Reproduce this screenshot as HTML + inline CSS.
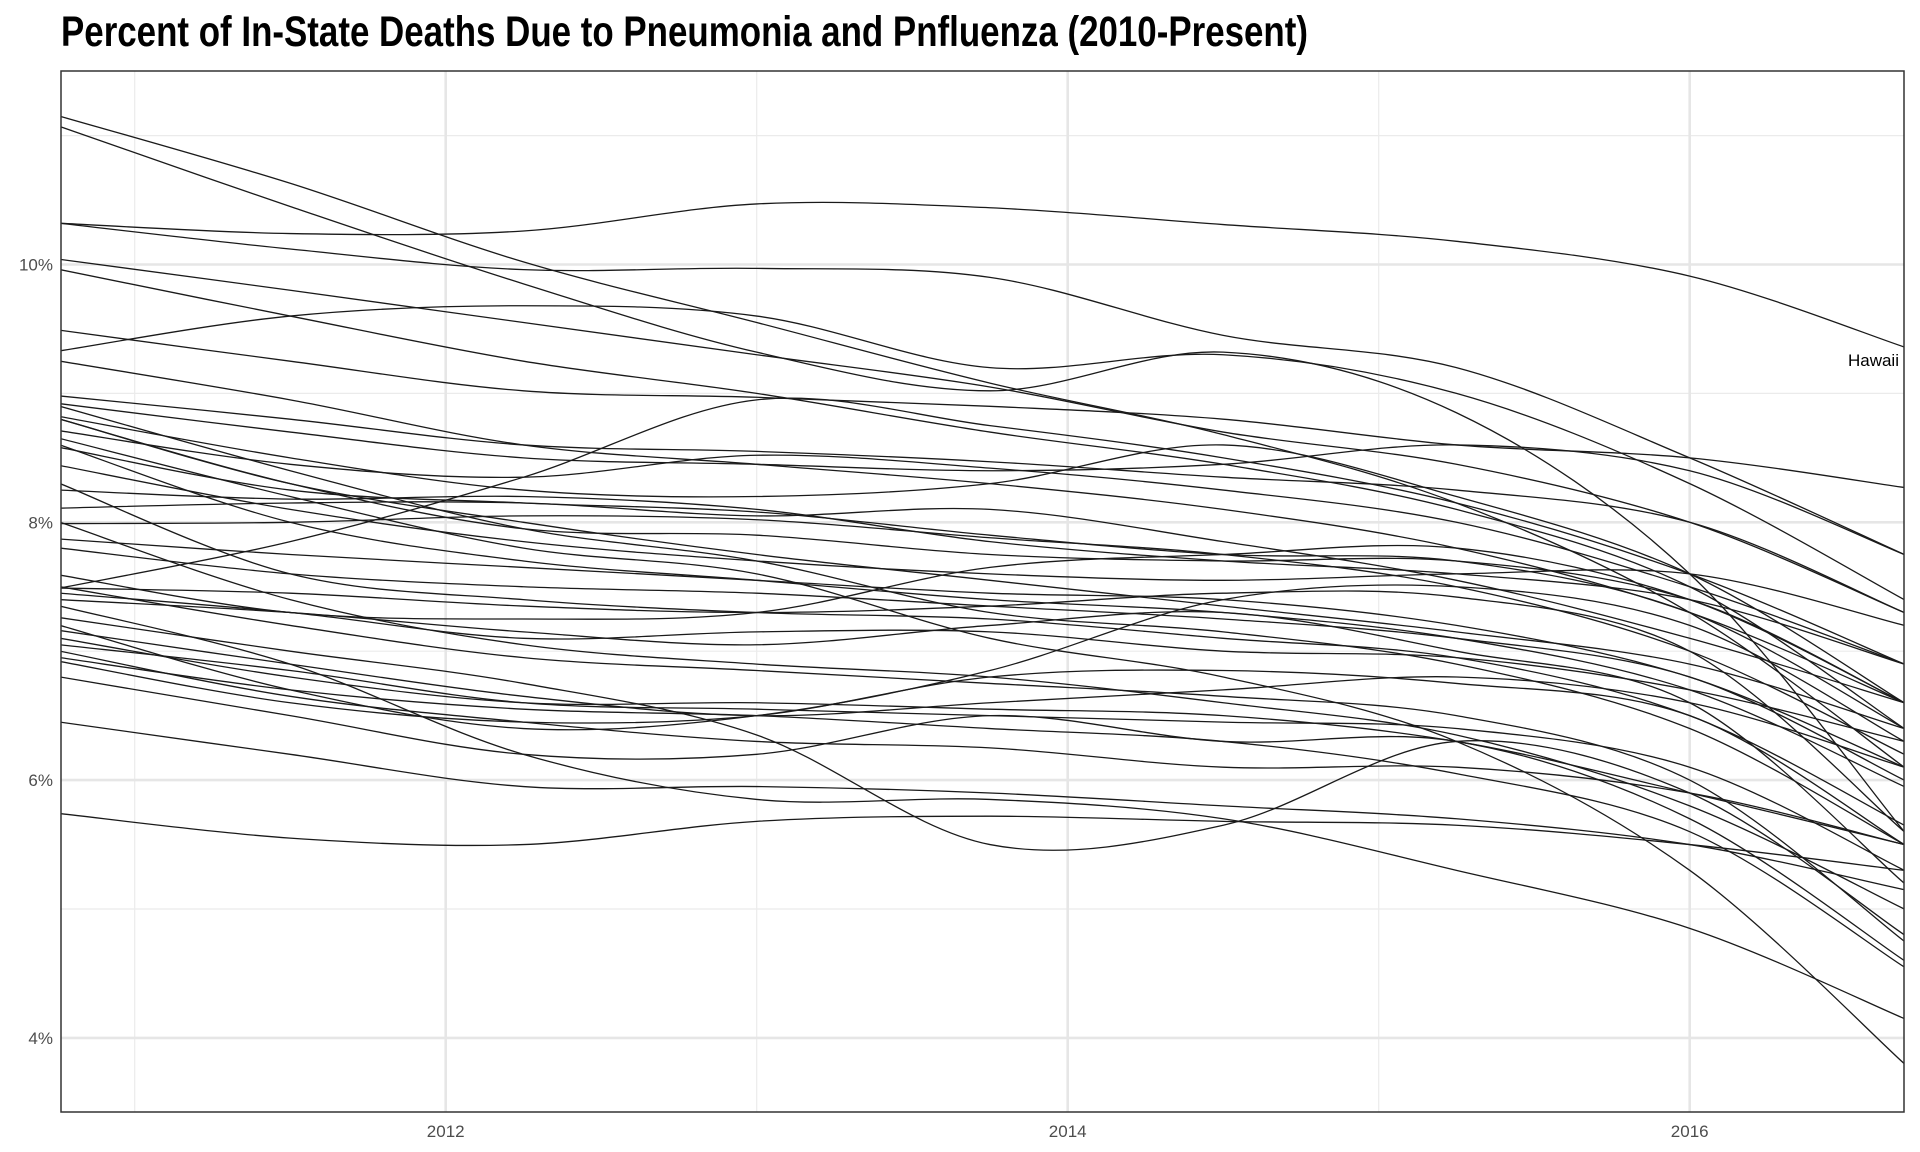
<!DOCTYPE html>
<html><head><meta charset="utf-8"><style>
html,body{margin:0;padding:0;background:#fff;}
svg{display:block;font-family:"Liberation Sans",sans-serif;}
</style></head><body>
<svg id="chart" width="1920" height="1152">
<text x="61" y="46" font-size="43" font-weight="bold" fill="#000" textLength="1247" lengthAdjust="spacingAndGlyphs">Percent of In-State Deaths Due to Pneumonia and Pnfluenza (2010-Present)</text>
<g id="grid"></g><g id="lines"></g><g id="axes"></g>
</svg>
<script>
const knotYears = [2010.76,2011.5,2012.25,2013,2013.75,2014.5,2015.25,2016,2016.69];
const xTicks = [2012,2014,2016];
const xMinor = [2011,2013,2015];
const yTicks = [4,6,8,10];
const yMinor = [5,7,9,11];
const hawaii = [10.32,10.24,10.26,10.47,10.44,10.31,10.18,9.91,9.36];
const states = [
[11.15,10.63,10.02,9.55,9.08,8.68,8.15,7.3,6.1],
[11.07,10.45,9.85,9.32,9.02,9.32,8.85,7.6,5.6],
[10.32,10.12,9.96,9.97,9.9,9.45,9.2,8.5,7.75],
[10.04,9.8,9.55,9.3,9.05,8.7,8.45,8.0,7.3],
[9.96,9.6,9.25,9.0,8.7,8.45,8.1,7.5,6.4],
[9.49,9.25,9.02,8.97,8.9,8.8,8.6,8.5,8.27],
[9.33,9.6,9.68,9.6,9.2,9.3,9.0,8.3,7.4],
[9.25,8.95,8.6,8.45,8.3,8.1,7.8,7.3,6.6],
[8.98,8.8,8.6,8.55,8.47,8.35,8.25,8.0,7.3],
[8.92,8.7,8.5,8.45,8.4,8.45,8.6,8.4,7.75],
[8.82,8.5,8.25,8.2,8.3,8.6,8.2,7.6,6.6],
[8.71,8.45,8.35,8.52,8.42,8.25,8.0,7.5,6.9],
[8.58,8.25,8.15,8.08,7.9,7.75,7.7,7.3,6.4],
[8.44,8.1,7.85,7.7,7.6,7.55,7.6,7.6,7.2],
[8.8,8.3,8.0,7.75,7.55,7.35,7.15,6.9,6.4],
[8.25,8.18,8.2,8.1,7.85,7.7,7.6,7.4,6.9],
[8.11,8.15,8.15,8.05,8.1,7.85,7.55,7.1,6.6],
[7.99,8.0,8.05,8.02,7.88,7.75,7.5,7.0,6.2],
[7.87,7.75,7.65,7.55,7.45,7.4,7.2,6.8,6.1],
[7.8,7.6,7.5,7.45,7.35,7.25,7.1,6.8,6.0],
[7.49,7.85,8.35,8.95,8.75,8.5,8.15,7.6,6.9],
[7.59,7.3,7.25,7.3,7.65,7.75,7.8,7.4,6.6],
[7.49,7.45,7.35,7.3,7.35,7.45,7.42,7.0,5.6],
[7.4,7.3,7.15,7.05,7.2,7.3,7.0,6.6,5.2],
[7.26,7.0,6.75,6.35,5.5,5.65,6.3,5.9,4.8],
[7.16,6.9,6.65,6.5,6.6,6.7,6.8,6.6,6.1],
[7.05,6.85,6.6,6.55,6.5,6.45,6.4,6.1,5.3],
[6.92,6.6,6.45,6.5,6.8,6.85,6.75,6.5,5.5],
[7.2,6.7,6.4,6.5,6.85,7.4,7.5,7.2,6.3],
[7.1,6.8,6.6,6.6,6.55,6.5,6.3,5.9,5.5],
[7.0,6.65,6.45,6.3,6.25,6.1,6.1,5.9,5.5],
[6.8,6.5,6.2,6.2,6.5,6.3,6.3,5.7,4.6],
[6.45,6.2,5.95,5.95,5.9,5.8,5.7,5.5,5.15],
[5.74,5.55,5.5,5.68,5.72,5.68,5.65,5.5,5.3],
[7.45,7.3,7.1,7.15,7.15,7.0,6.95,6.7,6.3],
[8.65,8.2,7.8,7.6,7.1,6.8,6.3,5.3,3.8],
[7.35,6.9,6.2,5.85,5.85,5.7,5.3,4.85,4.15],
[8.3,7.6,7.4,7.3,7.25,7.1,6.95,6.5,5.65],
[8.6,8.0,7.7,7.55,7.4,7.3,7.1,6.7,5.95],
[8.9,8.4,7.95,7.7,7.3,7.15,6.9,6.4,5.5],
[7.5,7.2,6.95,6.85,6.75,6.65,6.5,6.0,4.75],
[6.95,6.7,6.55,6.5,6.4,6.3,6.05,5.6,4.55],
[8.0,7.4,7.05,6.9,6.8,6.6,6.35,5.8,5.0],
[8.8,8.3,7.95,7.9,7.75,7.7,7.7,7.4,6.6]
];
const L=61,R=1904,T=71,B=1112;
function xs(yr){return 445.7+(yr-2012)*311.0;}
function ys(v){return 264.5+(10-v)*128.9;}
const NS="http://www.w3.org/2000/svg";
function mk(tag,attrs,parent){const e=document.createElementNS(NS,tag);for(const k in attrs)e.setAttribute(k,attrs[k]);parent.appendChild(e);return e;}
const grid=document.getElementById('grid'),lines=document.getElementById('lines'),axes=document.getElementById('axes');
xMinor.forEach(t=>{const e=mk('line',{x1:xs(t),x2:xs(t),y1:T,y2:B,stroke:'#ebebeb','stroke-width':1.2},grid);

});
yMinor.forEach(t=>{const e=mk('line',{x1:L,x2:R,y1:ys(t),y2:ys(t),stroke:'#ebebeb','stroke-width':1.2},grid);

});
xTicks.forEach(t=>{const e=mk('line',{x1:xs(t),x2:xs(t),y1:T,y2:B,stroke:'#e6e6e6','stroke-width':2.6},grid);


const tx=mk('text',{x:xs(t),y:B+25,'text-anchor':'middle','font-size':17,fill:'#4d4d4d'},axes);tx.textContent=t;

});
yTicks.forEach(t=>{const e=mk('line',{x1:L,x2:R,y1:ys(t),y2:ys(t),stroke:'#e6e6e6','stroke-width':2.6},grid);


const tx=mk('text',{x:L-8,y:ys(t)+6,'text-anchor':'end','font-size':17,fill:'#4d4d4d'},axes);tx.textContent=t+'%';

});
function pathFor(vals){
  const p=vals.map((v,i)=>[xs(knotYears[i]),ys(v)]);
  let d='M'+p[0][0]+','+p[0][1];
  for(let i=0;i<p.length-1;i++){
    const p0=p[Math.max(0,i-1)],p1=p[i],p2=p[i+1],p3=p[Math.min(p.length-1,i+2)];
    const c1=[p1[0]+(p2[0]-p0[0])/6,p1[1]+(p2[1]-p0[1])/6];
    const c2=[p2[0]-(p3[0]-p1[0])/6,p2[1]-(p3[1]-p1[1])/6];
    d+=' C'+c1[0]+','+c1[1]+' '+c2[0]+','+c2[1]+' '+p2[0]+','+p2[1];
  }
  return d;
}
const clip=mk('clipPath',{id:'pc'},document.getElementById('chart'));mk('rect',{x:L,y:T,width:R-L,height:B-T},clip);
lines.setAttribute('clip-path','url(#pc)');
states.forEach(vals=>{const e=mk('path',{d:pathFor(vals),fill:'none',stroke:'#1a1a1a','stroke-width':1.3},lines);

});
const hw=mk('path',{d:pathFor(hawaii),fill:'none',stroke:'#1a1a1a','stroke-width':1.3},lines);


const hl=mk('text',{x:R-5,y:ys(hawaii[hawaii.length-1])+19,'text-anchor':'end','font-size':17,fill:'#000'},axes);hl.textContent='Hawaii';


const fr=mk('rect',{x:L,y:T,width:R-L,height:B-T,fill:'none',stroke:'#333','stroke-width':1.5},axes);


</script>
</body></html>
